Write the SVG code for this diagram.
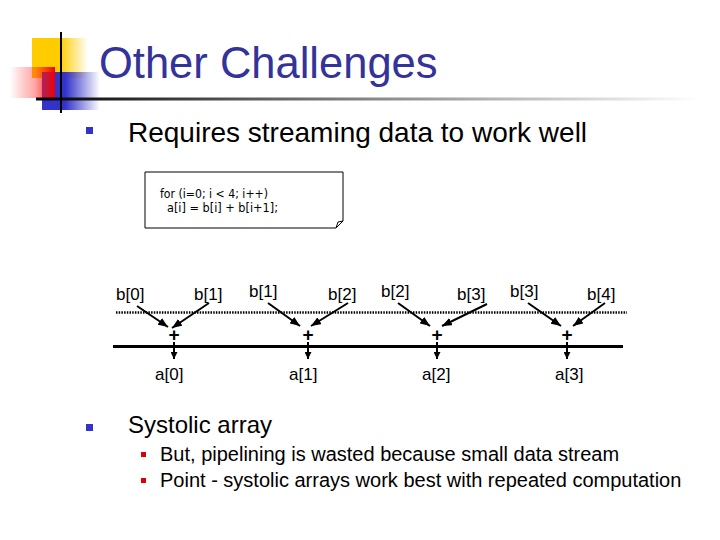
<svg xmlns="http://www.w3.org/2000/svg" width="720" height="540" viewBox="0 0 720 540">
<style>
.title{font-family:"Liberation Sans",Arial,sans-serif;font-size:43.5px;fill:#333399}
.t1{font-family:"Liberation Sans",Arial,sans-serif;font-size:28px;fill:#000}
.t2{font-family:"Liberation Sans",Arial,sans-serif;font-size:24px;fill:#000}
.t3{font-family:"Liberation Sans",Arial,sans-serif;font-size:20px;fill:#000}
.code{font-family:"DejaVu Sans","Liberation Sans",sans-serif;font-size:12px;fill:#000}
.lbl{font-family:"Liberation Sans",Arial,sans-serif;font-size:17px;fill:#000}
.plus{font-family:"Liberation Sans",Arial,sans-serif;font-size:19px;font-weight:bold;fill:#000;text-anchor:middle}
.arr{stroke:#000;stroke-width:2;fill:none}
</style>
<defs>
<linearGradient id="gy" x1="0" y1="0" x2="1" y2="0">
<stop offset="0" stop-color="#FFCC00"/><stop offset="0.5" stop-color="#FFCC00"/><stop offset="1" stop-color="#FFCC00" stop-opacity="0"/>
</linearGradient>
<linearGradient id="gr" x1="0" y1="0" x2="1" y2="0">
<stop offset="0" stop-color="#FF0000" stop-opacity="0"/><stop offset="0.55" stop-color="#FF2222" stop-opacity="0.4"/><stop offset="1" stop-color="#EE0000"/>
</linearGradient>
<linearGradient id="gb" x1="0" y1="0" x2="1" y2="0">
<stop offset="0" stop-color="#3333CC"/><stop offset="0.4" stop-color="#3333CC"/><stop offset="1" stop-color="#3333CC" stop-opacity="0"/>
</linearGradient>
<linearGradient id="gl" x1="0" y1="0" x2="1" y2="0">
<stop offset="0" stop-color="#000"/><stop offset="0.3" stop-color="#555"/><stop offset="1" stop-color="#fff"/>
</linearGradient>
<marker id="ah" markerUnits="userSpaceOnUse" markerWidth="10" markerHeight="8" refX="10" refY="4" orient="auto">
<path d="M0,0 L10,4 L0,8 Z" fill="#000"/>
</marker>
<marker id="ahs" markerUnits="userSpaceOnUse" markerWidth="7" markerHeight="7" refX="7" refY="3.5" orient="auto">
<path d="M0,0 L7,3.5 L0,7 Z" fill="#000"/>
</marker>
</defs>
<rect width="720" height="540" fill="#fff"/>
<g id="logo">
<rect x="32" y="38" width="56" height="40" fill="url(#gy)"/>
<rect x="42" y="72" width="58" height="38" fill="url(#gb)"/>
<rect x="10" y="67" width="45" height="31" fill="url(#gr)"/>
<rect x="36" y="97.5" width="664" height="3" fill="url(#gl)"/>
<rect x="60" y="32" width="2" height="81" fill="#000"/>
</g>
<text class="title" x="99" y="78">Other Challenges</text>
<rect x="86" y="127" width="7" height="7" fill="#3333CC"/>
<text class="t1" x="128" y="142">Requires streaming data to work well</text>
<g id="codebox">
<path d="M145,172 H343 V221 L336,228 H145 Z" fill="#fff" stroke="#000" stroke-width="1"/>
<path d="M336,228 L338,222 L343,221" fill="none" stroke="#000" stroke-width="1"/>
<text class="code" x="160" y="198" textLength="108" lengthAdjust="spacingAndGlyphs">for (i=0; i &lt; 4; i++)</text>
<text class="code" x="167" y="212" textLength="111" lengthAdjust="spacingAndGlyphs">a[i] = b[i] + b[i+1];</text>
</g>
<g id="streams">
<line x1="116" y1="312.5" x2="627" y2="312.5" stroke="#000" stroke-width="2.5" stroke-dasharray="1.5 1.2"/>
<line x1="113" y1="346.5" x2="623" y2="346.5" stroke="#000" stroke-width="3"/>
</g>
<g id="inputs">
<text class="lbl" x="116" y="300">b[0]</text>
<text class="lbl" x="194" y="300">b[1]</text>
<text class="lbl" x="249" y="297">b[1]</text>
<text class="lbl" x="328" y="300">b[2]</text>
<text class="lbl" x="381" y="297">b[2]</text>
<text class="lbl" x="457" y="300">b[3]</text>
<text class="lbl" x="510" y="297">b[3]</text>
<text class="lbl" x="587" y="300">b[4]</text>
</g>
<g id="adders">
<text class="plus" x="174" y="341">+</text>
<text class="plus" x="308" y="341">+</text>
<text class="plus" x="437" y="341">+</text>
<text class="plus" x="567" y="341">+</text>
</g>
<g id="outputs">
<text class="lbl" x="155" y="380">a[0]</text>
<text class="lbl" x="289" y="380">a[1]</text>
<text class="lbl" x="422" y="380">a[2]</text>
<text class="lbl" x="555" y="380">a[3]</text>
</g>
<g id="connectors">
<line class="arr" x1="137" y1="306" x2="168" y2="327" marker-end="url(#ah)"/>
<line class="arr" x1="209" y1="303" x2="172" y2="328" marker-end="url(#ah)"/>
<line class="arr" x1="268" y1="303" x2="300" y2="326" marker-end="url(#ah)"/>
<line class="arr" x1="348" y1="303" x2="311" y2="326" marker-end="url(#ah)"/>
<line class="arr" x1="398" y1="303" x2="430" y2="326" marker-end="url(#ah)"/>
<line class="arr" x1="487" y1="304" x2="442" y2="326" marker-end="url(#ah)"/>
<line class="arr" x1="528" y1="303" x2="561" y2="326" marker-end="url(#ah)"/>
<line class="arr" x1="605" y1="303" x2="573" y2="326" marker-end="url(#ah)"/>
<line class="arr" x1="174" y1="342" x2="174" y2="359" marker-end="url(#ahs)"/>
<line class="arr" x1="308" y1="342" x2="308" y2="359" marker-end="url(#ahs)"/>
<line class="arr" x1="437" y1="342" x2="437" y2="359" marker-end="url(#ahs)"/>
<line class="arr" x1="567" y1="342" x2="567" y2="359" marker-end="url(#ahs)"/>
</g>
<rect x="86" y="424" width="7" height="7" fill="#3333CC"/>
<text class="t2" x="128" y="433">Systolic array</text>
<rect x="141" y="452" width="5" height="5" fill="#DD0000"/>
<text class="t3" x="160" y="461">But, pipelining is wasted because small data stream</text>
<rect x="141" y="478" width="5" height="5" fill="#DD0000"/>
<text class="t3" x="160" y="487">Point - systolic arrays work best with repeated computation</text>
</svg>
